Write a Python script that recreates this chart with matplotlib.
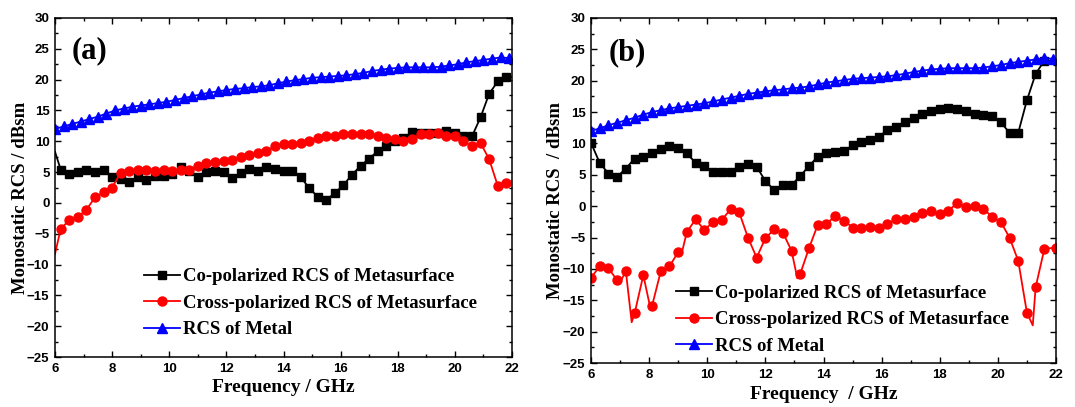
import numpy as np
import matplotlib.pyplot as plt
from matplotlib.ticker import MultipleLocator

# ---- panel (a) ----
a_co_freq = [6.0, 6.2, 6.5, 6.6, 6.8, 7.1, 7.4, 7.7, 8.0, 8.3, 8.6, 8.9, 9.2, 9.5, 9.8,
             10.1, 10.4, 10.7, 11.0, 11.3, 11.6, 11.9, 12.2, 12.5, 12.8, 13.1, 13.4,
             13.7, 14.0, 14.3, 14.6, 14.9, 15.2, 15.5, 15.8, 16.1, 16.4, 16.7, 17.0,
             17.3, 17.6, 17.9, 18.2, 18.5, 18.8, 19.1, 19.4, 19.7, 20.0, 20.3, 20.6,
             20.9, 21.2, 21.5, 21.8, 22.0]
a_co_vals = [8.3, 5.4, 4.7, 4.0, 5.0, 5.3, 5.0, 5.3, 4.2, 3.9, 3.4, 4.2, 3.7, 4.3, 4.3,
             4.7, 5.8, 5.2, 4.2, 5.0, 5.1, 5.0, 4.0, 4.8, 5.5, 5.2, 5.9,
             5.5, 5.2, 5.2, 4.2, 2.4, 1.0, 0.5, 1.6, 2.9, 4.6, 6.0, 7.2,
             8.4, 9.2, 10.1, 10.6, 11.5, 11.3, 11.3, 11.3, 11.7, 11.3, 10.8, 10.8,
             13.9, 17.7, 19.7, 20.4, 20.4]
a_co_marked = [False, True, True, False] + [True] * 51 + [False]

a_cross_freq = [6.0, 6.2, 6.5, 6.8, 7.1, 7.4, 7.7, 8.0, 8.3, 8.6, 8.9, 9.2, 9.5, 9.8,
                10.1, 10.4, 10.7, 11.0, 11.3, 11.6, 11.9, 12.2, 12.5, 12.8, 13.1, 13.4,
                13.7, 14.0, 14.3, 14.6, 14.9, 15.2, 15.5, 15.8, 16.1, 16.4, 16.7, 17.0,
                17.3, 17.6, 17.9, 18.2, 18.5, 18.8, 19.1, 19.4, 19.7, 20.0, 20.3, 20.6,
                20.9, 21.2, 21.5, 21.8, 22.0]
a_cross_vals = [-8.3, -4.2, -2.8, -2.3, -1.1, 0.9, 1.7, 2.5, 4.9, 5.1, 5.3, 5.4, 5.2, 5.3,
                5.1, 5.4, 5.3, 6.0, 6.5, 6.7, 6.8, 7.0, 7.4, 7.8, 8.1, 8.4,
                9.2, 9.6, 9.5, 9.8, 10.1, 10.5, 10.8, 10.9, 11.1, 11.1, 11.1, 11.1,
                10.9, 10.6, 10.3, 10.1, 10.4, 11.1, 11.2, 11.3, 10.8, 10.9, 10.0, 9.2,
                9.7, 7.1, 2.8, 3.3, 3.5]
a_cross_marked = [False] + [True] * 53 + [False]

metal_freq = [6.0, 6.3, 6.6, 6.9, 7.2, 7.5, 7.8, 8.1, 8.4, 8.7, 9.0, 9.3, 9.6, 9.9,
              10.2, 10.5, 10.8, 11.1, 11.4, 11.7, 12.0, 12.3, 12.6, 12.9, 13.2, 13.5,
              13.8, 14.1, 14.4, 14.7, 15.0, 15.3, 15.6, 15.9, 16.2, 16.5, 16.8, 17.1,
              17.4, 17.7, 18.0, 18.3, 18.6, 18.9, 19.2, 19.5, 19.8, 20.1, 20.4, 20.7,
              21.0, 21.3, 21.6, 21.9]
a_metal_vals = [12.0, 12.4, 12.8, 13.2, 13.6, 14.0, 14.5, 15.0, 15.3, 15.6, 15.8, 16.0,
                16.2, 16.4, 16.7, 17.0, 17.3, 17.6, 17.9, 18.1, 18.3, 18.5, 18.6, 18.8,
                18.9, 19.1, 19.4, 19.7, 19.9, 20.1, 20.3, 20.4, 20.5, 20.6, 20.7, 20.9,
                21.1, 21.4, 21.6, 21.8, 21.9, 22.0, 22.0, 22.0, 22.0, 22.1, 22.3, 22.5,
                22.8, 23.0, 23.2, 23.4, 23.6, 23.5]

# ---- panel (b) ----
b_co_freq = [6.0, 6.3, 6.6, 6.9, 7.2, 7.5, 7.8, 8.1, 8.4, 8.7, 9.0, 9.3, 9.6, 9.9,
             10.2, 10.5, 10.8, 11.1, 11.4, 11.7, 12.0, 12.3, 12.6, 12.9, 13.2, 13.5,
             13.8, 14.1, 14.4, 14.7, 15.0, 15.3, 15.6, 15.9, 16.2, 16.5, 16.8, 17.1,
             17.4, 17.7, 18.0, 18.3, 18.6, 18.9, 19.2, 19.5, 19.8, 20.1, 20.4, 20.7,
             21.0, 21.3, 21.6, 22.0]
b_co_vals = [10.1, 6.9, 5.2, 4.7, 6.0, 7.6, 7.8, 8.4, 9.1, 9.6, 9.2, 8.4, 6.9, 6.4,
             5.5, 5.5, 5.5, 6.3, 6.8, 6.3, 4.0, 2.6, 3.4, 3.4, 4.8, 6.4,
             7.9, 8.4, 8.6, 8.8, 9.7, 10.2, 10.5, 11.1, 12.1, 12.7, 13.5, 14.1,
             14.7, 15.1, 15.5, 15.7, 15.5, 15.2, 14.7, 14.6, 14.3, 13.4, 11.7, 11.7,
             16.9, 21.1, 23.2, 23.2]
b_co_marked = [True] * 53 + [False]

b_cross_freq = [6.0, 6.3, 6.6, 6.9, 7.0, 7.2, 7.4, 7.5, 7.8, 8.05, 8.1, 8.4, 8.7, 9.0, 9.1,
                9.3, 9.6, 9.9, 10.2, 10.5, 10.8, 11.1, 11.4, 11.7, 12.0, 12.3, 12.6,
                12.9, 13.1, 13.2, 13.5, 13.8, 14.1, 14.4, 14.7, 15.0, 15.3, 15.6, 15.9,
                16.2, 16.5, 16.8, 17.1, 17.4, 17.7, 18.0, 18.3, 18.6, 18.9, 19.2, 19.5,
                19.8, 20.1, 20.4, 20.7, 21.0, 21.2, 21.3, 21.6, 22.0]
b_cross_vals = [-11.4, -9.6, -9.9, -11.8, -12.1, -10.4, -18.5, -17.1, -11.0, -16.4, -15.9,
                -10.4, -9.6, -7.3, -7.9,
                -4.1, -2.1, -3.8, -2.5, -2.2, -0.5, -1.0, -5.0, -8.2, -5.1, -3.7, -4.2,
                -7.1, -11.5, -10.8, -6.7, -3.0, -2.8, -1.6, -2.3, -3.4, -3.4, -3.3, -3.4,
                -2.9, -2.0, -2.0, -1.8, -1.1, -0.7, -1.3, -0.7, 0.5, -0.1, 0.05, -0.4,
                -1.7, -2.5, -5.0, -8.7, -17.0, -19.0, -12.9, -6.8, -6.6]
b_cross_marked = [True, True, True, True, False, True, False, True, True, False, True,
                  True, True, True, False,
                  True, True, True, True, True, True, True, True, True, True, True, True,
                  True, False, True, True, True, True, True, True, True, True, True, True,
                  True, True, True, True, True, True, True, True, True, True, True, True,
                  True, True, True, True, True, False, True, True, True]

b_metal_vals = [12.0, 12.4, 12.9, 13.3, 13.7, 14.1, 14.6, 15.0, 15.3, 15.6, 15.8, 16.0,
                16.2, 16.4, 16.7, 17.0, 17.3, 17.6, 17.9, 18.1, 18.3, 18.5, 18.6, 18.8,
                18.9, 19.1, 19.4, 19.7, 19.9, 20.1, 20.3, 20.4, 20.5, 20.6, 20.7, 20.9,
                21.1, 21.4, 21.6, 21.8, 21.9, 22.0, 22.0, 22.0, 22.0, 22.1, 22.3, 22.5,
                22.8, 23.0, 23.2, 23.4, 23.6, 23.5]

labels = ["Co-polarized RCS of Metasurface", "Cross-polarized RCS of Metasurface", "RCS of Metal"]

serif = "Liberation Serif"
sans = "Liberation Sans"

fig = plt.figure(figsize=(10.75, 4.07), dpi=100)
ax_a = fig.add_axes([55 / 1075, 1 - 357 / 407, 457 / 1075, 339 / 407])
ax_b = fig.add_axes([591 / 1075, 1 - 363 / 407, 465 / 1075, 345 / 407])


def draw_panel(ax, series, tag, tag_xy, ylabel, xlabel, leg_anchor):
    styles = [("black", "s", 5.5), ("red", "o", 6.5), ("blue", "^", 7)]
    lines = []
    for (f, v, m), (col, mk, ms) in zip(series, styles):
        idx = [i for i, flag in enumerate(m) if flag]
        ln, = ax.plot(f, v, color=col, lw=1.3, marker=mk, ms=ms, markevery=idx,
                      mec=col, mfc=col)
        lines.append(ln)
    ax.set_xlim(6, 22)
    ax.set_ylim(-25, 30)
    ax.xaxis.set_major_locator(MultipleLocator(2))
    ax.xaxis.set_minor_locator(MultipleLocator(1))
    ax.yaxis.set_major_locator(MultipleLocator(5))
    ax.yaxis.set_minor_locator(MultipleLocator(2.5))
    ax.tick_params(which="both", direction="in", top=True, right=True, width=1.0)
    ax.tick_params(which="major", length=4.5, pad=4)
    ax.tick_params(which="minor", length=2.5)
    for lab in ax.get_xticklabels() + ax.get_yticklabels():
        lab.set_fontfamily(sans)
        lab.set_fontweight("bold")
        lab.set_fontsize(9.5)
    for sp in ax.spines.values():
        sp.set_linewidth(1.1)
    ax.set_ylabel(ylabel, fontfamily=serif, fontweight="bold", fontsize=13.5, va="center")
    ax.yaxis.set_label_coords(-0.076, 0.47)
    ax.set_xlabel(xlabel, fontfamily=serif, fontweight="bold", fontsize=14, va="center")
    ax.xaxis.set_label_coords(0.5, -0.09)
    ax.text(tag_xy[0], tag_xy[1], tag, fontfamily=serif, fontweight="bold", fontsize=22,
            ha="left", va="center")
    ax.legend(lines, labels, loc="center left", bbox_to_anchor=leg_anchor, numpoints=1,
              frameon=False, handlelength=1.9, handletextpad=0.15, labelspacing=0.5,
              borderpad=0, borderaxespad=0,
              prop={"family": serif, "weight": "bold", "size": 13.5})


draw_panel(ax_a,
           [(a_co_freq, a_co_vals, a_co_marked),
            (a_cross_freq, a_cross_vals, a_cross_marked),
            (metal_freq, a_metal_vals, [True] * len(metal_freq))],
           "(a)", (6.58, 24.7), "Monostatic RCS / dBsm", "Frequency / GHz", (0.195, 0.159))
draw_panel(ax_b,
           [(b_co_freq, b_co_vals, b_co_marked),
            (b_cross_freq, b_cross_vals, b_cross_marked),
            (metal_freq, b_metal_vals, [True] * len(metal_freq))],
           "(b)", (6.62, 24.5), "Monostatic RCS  / dBsm", "Frequency  / GHz", (0.183, 0.125))

fig.savefig("out.png", dpi=100)
